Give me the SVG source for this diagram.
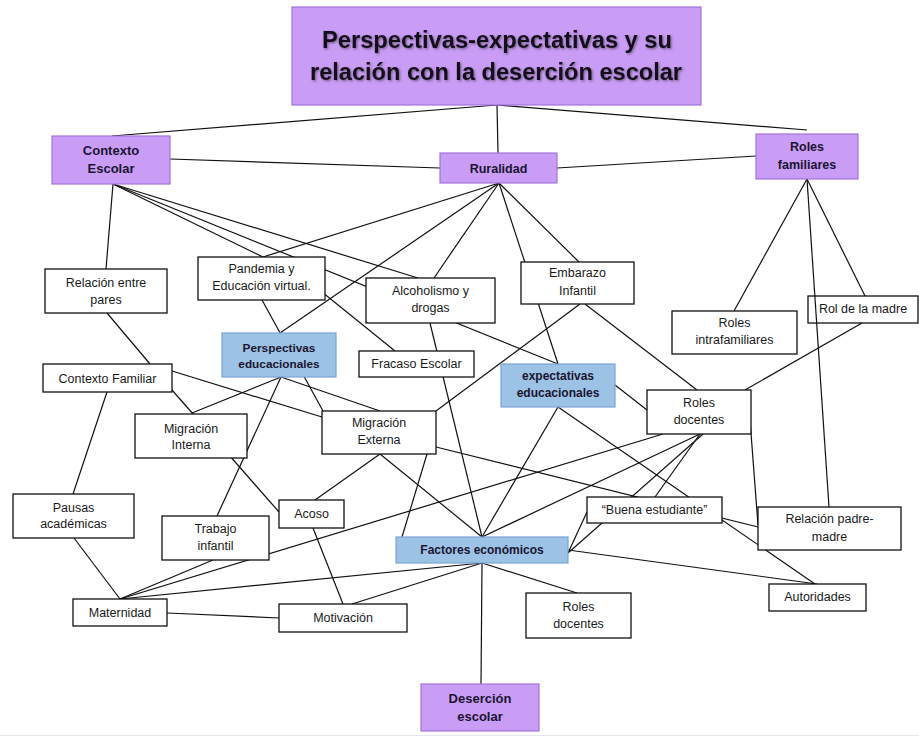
<svg xmlns="http://www.w3.org/2000/svg" width="919" height="736" viewBox="0 0 919 736">
<defs>
<filter id="shadow" x="-5%" y="-20%" width="110%" height="140%">
<feDropShadow dx="1.2" dy="1.2" stdDeviation="0.8" flood-color="#333" flood-opacity="0.55"/>
</filter>
<style>
.bg{fill:#ffffff}
.conn line{stroke:#111;stroke-width:1.2;fill:none}
.box{fill:#ffffff;stroke:#111;stroke-width:1.3}
.purple{fill:#c99cf6;stroke:#a273de;stroke-width:1.2}
.blue{fill:#9cc2e6;stroke:#7aa3d3;stroke-width:1.2}
text{font-family:"Liberation Sans",Arial,sans-serif;text-anchor:middle;fill:#1a1a1a}
.t{font-size:12.5px}
.b{font-size:12.5px;font-weight:bold;fill:#1b1530}
.title{font-size:23.5px;font-weight:bold;fill:#15101f;filter:url(#shadow)}
</style>
</defs>
<rect class="bg" x="0" y="0" width="919" height="736"/>
<line x1="0" y1="735.5" x2="919" y2="735.5" stroke="#e6e6e6" stroke-width="1"/>

<g id="connectors" class="conn">
<line x1="497" y1="105" x2="112" y2="136"/>
<line x1="497" y1="105" x2="498" y2="153"/>
<line x1="497" y1="105" x2="807" y2="130"/>
<line x1="170" y1="159" x2="440" y2="168"/>
<line x1="557" y1="168" x2="756" y2="156"/>
<line x1="113" y1="184" x2="106" y2="269"/>
<line x1="113" y1="184" x2="263" y2="257"/>
<line x1="113" y1="184" x2="558" y2="364"/>
<line x1="113" y1="184" x2="418" y2="278"/>
<line x1="499" y1="183" x2="263" y2="257"/>
<line x1="499" y1="183" x2="280" y2="333"/>
<line x1="499" y1="183" x2="434" y2="278"/>
<line x1="499" y1="183" x2="558" y2="364"/>
<line x1="499" y1="183" x2="579" y2="262"/>
<line x1="807" y1="179" x2="734" y2="311"/>
<line x1="807" y1="179" x2="865" y2="296"/>
<line x1="807" y1="179" x2="829" y2="507"/>
<line x1="862" y1="323" x2="745" y2="390"/>
<line x1="585" y1="304" x2="697" y2="390"/>
<line x1="580" y1="304" x2="436" y2="411"/>
<line x1="615" y1="385" x2="647" y2="410"/>
<line x1="107" y1="313" x2="150" y2="364"/>
<line x1="107" y1="392" x2="73" y2="494"/>
<line x1="74" y1="538" x2="120" y2="599"/>
<line x1="172" y1="390" x2="279" y2="512"/>
<line x1="172" y1="371" x2="322" y2="417"/>
<line x1="262" y1="300" x2="323" y2="411"/>
<line x1="281" y1="377" x2="192" y2="413"/>
<line x1="281" y1="377" x2="380" y2="411"/>
<line x1="281" y1="377" x2="217" y2="516"/>
<line x1="322" y1="292" x2="395" y2="351"/>
<line x1="430" y1="323" x2="482" y2="537"/>
<line x1="380" y1="454" x2="315" y2="500"/>
<line x1="380" y1="454" x2="482" y2="537"/>
<line x1="427" y1="454" x2="402" y2="537"/>
<line x1="436" y1="447" x2="758" y2="527"/>
<line x1="558" y1="407" x2="482" y2="537"/>
<line x1="558" y1="407" x2="815" y2="584"/>
<line x1="313" y1="528" x2="343" y2="604"/>
<line x1="167" y1="613" x2="279" y2="618"/>
<line x1="352" y1="604" x2="482" y2="563"/>
<line x1="120" y1="599" x2="482" y2="563"/>
<line x1="120" y1="599" x2="213" y2="560"/>
<line x1="120" y1="599" x2="663" y2="434"/>
<line x1="700" y1="434" x2="482" y2="537"/>
<line x1="700" y1="434" x2="655" y2="497"/>
<line x1="568" y1="553" x2="703" y2="434"/>
<line x1="568" y1="553" x2="587" y2="512"/>
<line x1="568" y1="550" x2="817" y2="584"/>
<line x1="482" y1="563" x2="481" y2="684"/>
<line x1="482" y1="563" x2="577" y2="593"/>
<line x1="750" y1="420" x2="758" y2="525"/>
</g>

<g id="title">
<rect class="purple" x="292" y="7" width="409" height="98"/>
<text class="title" x="497" y="48" textLength="350" lengthAdjust="spacingAndGlyphs">Perspectivas-expectativas y su</text>
<text class="title" x="496" y="80" textLength="372" lengthAdjust="spacingAndGlyphs">relación con la deserción escolar</text>
</g>
<g id="contexto-escolar">
<rect class="purple" x="52" y="136" width="118" height="48"/>
<text class="b" x="111" y="155" style="font-size:13px">Contexto</text>
<text class="b" x="111" y="173" style="font-size:13px">Escolar</text>
</g>
<g id="ruralidad">
<rect class="purple" x="440" y="153" width="117" height="30"/>
<text class="b" x="498.5" y="173">Ruralidad</text>
</g>
<g id="roles-familiares">
<rect class="purple" x="756" y="134" width="102" height="45"/>
<text class="b" x="807" y="151">Roles</text>
<text class="b" x="807" y="169">familiares</text>
</g>
<g id="relacion-pares">
<rect class="box" x="45" y="269" width="122" height="44"/>
<text class="t" x="106" y="287">Relación entre</text>
<text class="t" x="106" y="304">pares</text>
</g>
<g id="pandemia">
<rect class="box" x="198" y="257" width="127" height="43"/>
<text class="t" x="261.5" y="273">Pandemia y</text>
<text class="t" x="261.5" y="290">Educación virtual.</text>
</g>
<g id="alcoholismo">
<rect class="box" x="366" y="278" width="129" height="45"/>
<text class="t" x="430.5" y="295">Alcoholismo y</text>
<text class="t" x="430.5" y="312">drogas</text>
</g>
<g id="embarazo">
<rect class="box" x="521" y="262" width="113" height="42"/>
<text class="t" x="577.5" y="277">Embarazo</text>
<text class="t" x="577.5" y="295">Infantil</text>
</g>
<g id="roles-intrafamiliares">
<rect class="box" x="672" y="311" width="125" height="43"/>
<text class="t" x="734.5" y="327">Roles</text>
<text class="t" x="734.5" y="344">intrafamiliares</text>
</g>
<g id="rol-madre">
<rect class="box" x="808" y="296" width="110" height="27" style="fill:none"/>
<text class="t" x="863" y="313">Rol de la madre</text>
</g>
<g id="perspectivas">
<rect class="blue" x="222" y="333" width="114" height="44"/>
<text class="b" x="279" y="352" style="font-size:11.8px">Perspectivas</text>
<text class="b" x="279" y="368" style="font-size:11.8px">educacionales</text>
</g>
<g id="fracaso">
<rect class="box" x="359" y="351" width="115" height="26"/>
<text class="t" x="416.5" y="368">Fracaso Escolar</text>
</g>
<g id="expectativas">
<rect class="blue" x="501" y="364" width="114" height="43"/>
<text class="b" x="558" y="380" style="font-size:12px">expectativas</text>
<text class="b" x="558" y="397" style="font-size:12px">educacionales</text>
</g>
<g id="contexto-familiar">
<rect class="box" x="43" y="364" width="129" height="28"/>
<text class="t" x="107.5" y="383">Contexto Familiar</text>
</g>
<g id="migracion-interna">
<rect class="box" x="135" y="414" width="112" height="44"/>
<text class="t" x="191" y="433">Migración</text>
<text class="t" x="191" y="449">Interna</text>
</g>
<g id="migracion-externa">
<rect class="box" x="322" y="411" width="114" height="43"/>
<text class="t" x="379" y="427">Migración</text>
<text class="t" x="379" y="444">Externa</text>
</g>
<g id="roles-docentes-1">
<rect class="box" x="647" y="390" width="104" height="44"/>
<text class="t" x="699" y="407">Roles</text>
<text class="t" x="699" y="424">docentes</text>
</g>
<g id="pausas">
<rect class="box" x="13" y="494" width="121" height="44"/>
<text class="t" x="73.5" y="512">Pausas</text>
<text class="t" x="73.5" y="528">académicas</text>
</g>
<g id="trabajo">
<rect class="box" x="162" y="516" width="107" height="44"/>
<text class="t" x="215.5" y="533">Trabajo</text>
<text class="t" x="215.5" y="550">infantil</text>
</g>
<g id="acoso">
<rect class="box" x="279" y="500" width="65" height="28"/>
<text class="t" x="311.5" y="518">Acoso</text>
</g>
<g id="buena-estudiante">
<rect class="box" x="587" y="497" width="135" height="26"/>
<text class="t" x="654.5" y="514">“Buena estudiante”</text>
</g>
<g id="relacion-padre-madre">
<rect class="box" x="758" y="507" width="143" height="43"/>
<text class="t" x="829.5" y="523">Relación padre-</text>
<text class="t" x="829.5" y="541">madre</text>
</g>
<g id="factores">
<rect class="blue" x="396" y="537" width="172" height="26"/>
<text class="b" x="482" y="554" style="font-size:12px">Factores económicos</text>
</g>
<g id="autoridades">
<rect class="box" x="769" y="584" width="97" height="27"/>
<text class="t" x="817.5" y="601">Autoridades</text>
</g>
<g id="maternidad">
<rect class="box" x="73" y="599" width="94" height="27"/>
<text class="t" x="120" y="617">Maternidad</text>
</g>
<g id="motivacion">
<rect class="box" x="279" y="604" width="128" height="28"/>
<text class="t" x="343" y="622">Motivación</text>
</g>
<g id="roles-docentes-2">
<rect class="box" x="526" y="593" width="105" height="45"/>
<text class="t" x="578.5" y="611">Roles</text>
<text class="t" x="578.5" y="628">docentes</text>
</g>
<g id="desercion">
<rect class="purple" x="421" y="684" width="118" height="47"/>
<text class="b" x="480" y="703" style="font-size:13px">Deserción</text>
<text class="b" x="480" y="721" style="font-size:13px">escolar</text>
</g>
</svg>
